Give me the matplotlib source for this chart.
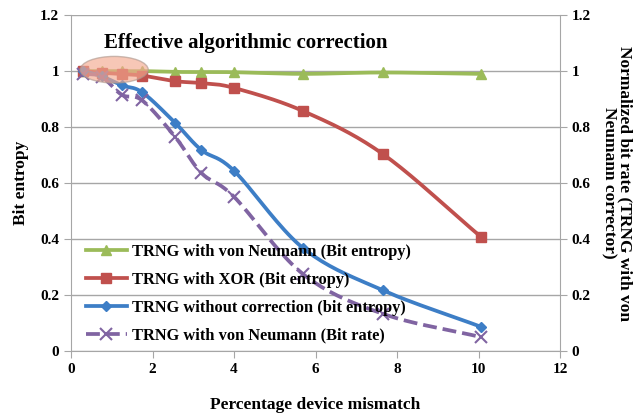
import numpy as np
import matplotlib
matplotlib.use("Agg")
import matplotlib.pyplot as plt
from matplotlib.patches import Ellipse

plt.rcParams['font.family'] = ['Liberation Serif', 'DejaVu Serif']
plt.rcParams['font.weight'] = 'bold'

# data
mismatch = [0.3, 0.75, 1.25, 1.75, 2.55, 3.2, 4.0, 5.7, 7.65, 10.05]
vn_entropy = [1.0, 1.0, 1.0, 1.0, 0.997, 0.997, 0.996, 0.99, 0.995, 0.99]
xor_entropy = [1.0, 0.994, 0.99, 0.984, 0.964, 0.957, 0.94, 0.857, 0.704, 0.409]
raw_entropy = [1.0, 0.982, 0.949, 0.924, 0.816, 0.718, 0.644, 0.367, 0.217, 0.087]
vn_rate = [0.99, 0.98, 0.915, 0.895, 0.766, 0.636, 0.551, 0.274, 0.133, 0.05]

labels = ["TRNG with von Neumann (Bit entropy)",
          "TRNG with XOR (Bit entropy)",
          "TRNG without correction (bit entropy)",
          "TRNG with von Neumann (Bit rate)"]


def smooth(x, y, n=20):
    # catmull-rom path through the points, like Excel's smoothed line
    x = np.asarray(x, float)
    y = np.asarray(y, float)
    px = np.concatenate([[2 * x[0] - x[1]], x, [2 * x[-1] - x[-2]]])
    py = np.concatenate([[2 * y[0] - y[1]], y, [2 * y[-1] - y[-2]]])
    t = np.linspace(0, 1, n, endpoint=False)
    xs, ys = [], []
    for i in range(1, len(px) - 2):
        for p, out in ((px, xs), (py, ys)):
            p0, p1, p2, p3 = p[i - 1], p[i], p[i + 1], p[i + 2]
            out.extend(0.5 * (2 * p1 + (-p0 + p2) * t
                              + (2 * p0 - 5 * p1 + 4 * p2 - p3) * t ** 2
                              + (-p0 + 3 * p1 - 3 * p2 + p3) * t ** 3))
    xs.append(x[-1])
    ys.append(y[-1])
    return np.array(xs), np.array(ys)


fig = plt.figure(figsize=(6.42, 4.2), dpi=100)
ax = fig.add_axes([0.1106, 0.1643, 0.7617, 0.7997])

series = [
    (vn_entropy, '#9BBB59', '^', '-', 7, labels[0]),
    (xor_entropy, '#C0504D', 's', '-', 7, labels[1]),
    (raw_entropy, '#3D7EC6', 'D', '-', 5, labels[2]),
    (vn_rate, '#8064A2', 'x', '--', 8, labels[3]),
]
handles = []
for vals, col, mk, ls, ms, lab in series:
    sx, sy = smooth(mismatch, vals)
    ax.plot(sx, sy, color=col, lw=2.7, ls=ls, zorder=3)
    ax.plot(mismatch, vals, ls='none', marker=mk, color=col, ms=ms,
            mew=1.5 if mk == 'x' else 1, zorder=4)
    h, = ax.plot([], [], color=col, lw=2.7, ls=ls, marker=mk, ms=ms,
                 mew=1.5 if mk == 'x' else 1)
    handles.append((h, lab))

ax.add_patch(Ellipse((1.06, 1.005), 1.67, 0.095, facecolor='#F4A98F',
                     edgecolor='#B09A90', alpha=0.65, lw=1, zorder=5))

ax.set_xlim(0, 12)
ax.set_ylim(0, 1.2)
ax.set_xticks(range(0, 13, 2))
ax.set_yticks([0, 0.2, 0.4, 0.6, 0.8, 1.0, 1.2])
ax.set_yticklabels(['0', '0.2', '0.4', '0.6', '0.8', '1', '1.2'])
ax.yaxis.grid(True, color='#A6A6A6', lw=1)
ax.set_axisbelow(True)
for s in ax.spines.values():
    s.set_color('#A6A6A6')
ax.spines['top'].set_visible(False)
ax.tick_params(colors='#A6A6A6', labelcolor='black', labelsize=11, length=5)

ax2 = ax.twinx()
ax2.set_ylim(0, 1.2)
ax2.set_yticks([0, 0.2, 0.4, 0.6, 0.8, 1.0, 1.2])
ax2.set_yticklabels(['0', '0.2', '0.4', '0.6', '0.8', '1', '1.2'])
for s in ax2.spines.values():
    s.set_visible(False)
ax2.tick_params(colors='#A6A6A6', labelcolor='black', labelsize=11, length=5)

ax.set_xlabel('Percentage device mismatch', fontsize=12.5, fontweight='bold', labelpad=15)
ax.set_ylabel('Bit entropy', fontsize=12.5, fontweight='bold', labelpad=8)
ax2.set_ylabel('Normalized bit rate (TRNG with von\nNeumann corrector)',
               fontsize=12.5, fontweight='bold', rotation=-90, labelpad=30,
               linespacing=1.0)

ax.text(0.8, 1.1, 'Effective algorithmic correction', fontsize=15,
        fontweight='bold', va='center')

ax.legend([h for h, _ in handles], [l for _, l in handles], loc='lower left',
          bbox_to_anchor=(-0.0, -0.022), frameon=False,
          handlelength=2.5, handletextpad=0.35, labelspacing=0.72,
          prop={'weight': 'bold', 'size': 11.8})

fig.savefig('out.png', dpi=100)
